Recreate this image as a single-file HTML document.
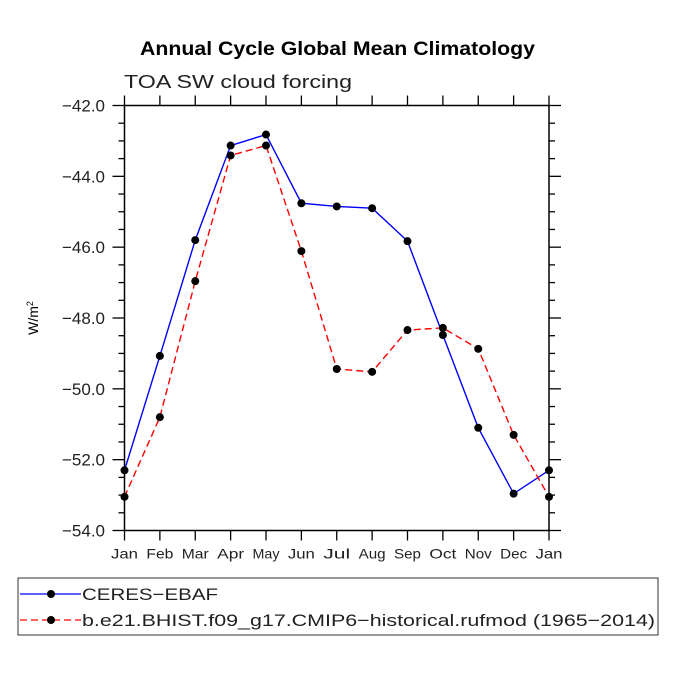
<!DOCTYPE html>
<html><head><meta charset="utf-8"><style>
body{margin:0;background:#fff;}
svg text{font-family:"Liberation Sans",sans-serif;}
</style></head><body>
<svg id="chart" width="675" height="675" viewBox="0 0 675 675">
<text x="140" y="55" textLength="395" lengthAdjust="spacingAndGlyphs" font-weight="bold" font-size="19">Annual Cycle Global Mean Climatology</text>
<text x="124" y="88" textLength="228" lengthAdjust="spacingAndGlyphs" font-size="18" fill="#222">TOA SW cloud forcing</text>
<text transform="translate(38,318) rotate(-90)" text-anchor="middle" font-size="14">W/m<tspan dy="-5" font-size="9">2</tspan></text>
<g id="axes"></g>
<g id="series"></g>
<g>
<rect x="18" y="578" width="640" height="57" fill="none" stroke="#333" stroke-width="1"/>
<line x1="20" y1="594" x2="81" y2="594" stroke="#0000ff" stroke-width="1.3"/>
<circle cx="51" cy="594" r="4" fill="#000"/>
<text x="82" y="600" textLength="136" lengthAdjust="spacingAndGlyphs" font-size="17" fill="#222">CERES−EBAF</text>
<line x1="20" y1="620" x2="81" y2="620" stroke="#ff0000" stroke-width="1.3" stroke-dasharray="7,4"/>
<circle cx="51" cy="620" r="4" fill="#000"/>
<text x="82" y="626" textLength="573" lengthAdjust="spacingAndGlyphs" font-size="17" fill="#222">b.e21.BHIST.f09_g17.CMIP6−historical.rufmod (1965−2014)</text>
</g>
</svg>
<script>
const months=["Jan","Feb","Mar","Apr","May","Jun","Jul","Aug","Sep","Oct","Nov","Dec","Jan"];
const ceres=[-52.3,-49.07,-45.8,-43.13,-42.82,-44.76,-44.85,-44.9,-45.83,-48.48,-51.1,-52.96,-52.3];
const model=[-53.05,-50.8,-46.96,-43.41,-43.13,-46.11,-49.44,-49.52,-48.34,-48.28,-48.87,-51.3,-53.05];
const yTicks=[-42,-44,-46,-48,-50,-52,-54];
const NS="http://www.w3.org/2000/svg";
const L=124.5,R=549,T=105.5,B=530.5,ymin=-54,ymax=-42;
const xs=i=>L+(R-L)*i/(months.length-1);
const ys=v=>B-(v-ymin)/(ymax-ymin)*(B-T);
function mk(tag,at,parent){const e=document.createElementNS(NS,tag);for(const k in at)e.setAttribute(k,at[k]);parent.appendChild(e);return e;}
const ax=document.getElementById('axes');
const frame=mk('rect',{x:L,y:T,width:R-L,height:B-T,fill:'none',stroke:'#000','stroke-width':1.5},ax);


months.forEach((m,i)=>{const x=xs(i);
mk('line',{x1:x,y1:B,x2:x,y2:B+10,stroke:'#000','stroke-width':1.3},ax);
mk('line',{x1:x,y1:T,x2:x,y2:T-10,stroke:'#000','stroke-width':1.3},ax);
const t=mk('text',{x:x-13.5,y:B+28,textLength:27,lengthAdjust:'spacingAndGlyphs','font-size':14,fill:'#222'},ax);t.textContent=m;

});
for(let v=ymin;v<=ymax+0.001;v+=0.5){const y=ys(v);const major=Math.abs(v%2)<0.01;
const len=major?12:6;
mk('line',{x1:L,y1:y,x2:L-len,y2:y,stroke:'#000','stroke-width':1.3},ax);
mk('line',{x1:R,y1:y,x2:R+len,y2:y,stroke:'#000','stroke-width':1.3},ax);}
yTicks.forEach(v=>{const t=mk('text',{x:62,y:ys(v)+6,textLength:43,lengthAdjust:'spacingAndGlyphs','font-size':17,fill:'#222'},ax);
t.textContent=v.toFixed(1).replace('-','−');

});
const sg=document.getElementById('series');
function draw(vals,color,dash,name){
const p=mk('polyline',{points:vals.map((v,i)=>xs(i)+','+ys(v)).join(' '),fill:'none',stroke:color,'stroke-width':1.4,'stroke-dasharray':dash},sg);


vals.forEach((v,i)=>{const c=mk('circle',{cx:xs(i),cy:ys(v),r:4,fill:'#000'},sg);

});}
draw(ceres,'#0000ff','none','ceres');
draw(model,'#ff0000','7,4','model');
</script>
</body></html>
